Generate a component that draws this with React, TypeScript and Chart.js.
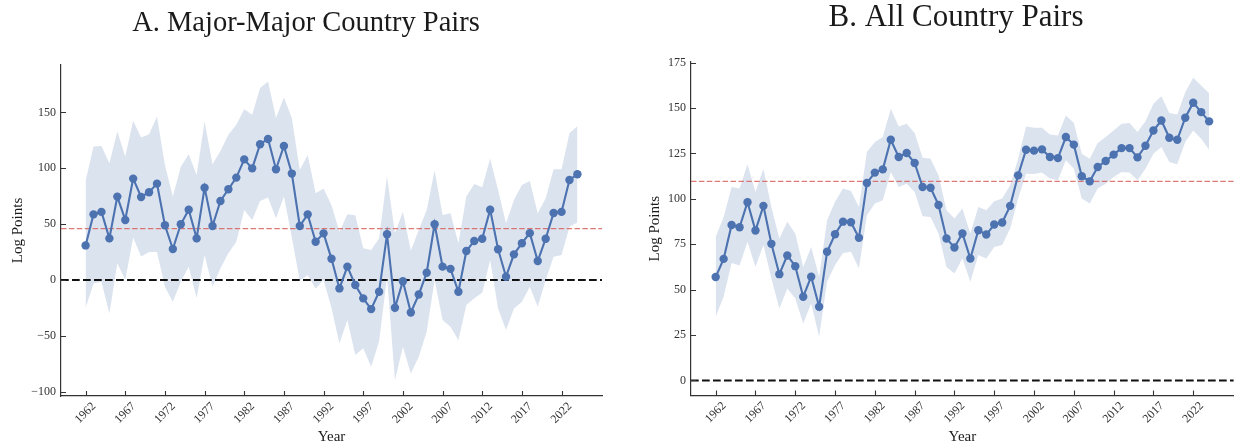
import React, { useEffect, useRef } from "react";
import { Chart, registerables } from "chart.js";

Chart.register(...registerables);

// ---------- data ----------
const YEARS = [
  1962, 1963, 1964, 1965, 1966, 1967, 1968, 1969, 1970, 1971,
  1972, 1973, 1974, 1975, 1976, 1977, 1978, 1979, 1980, 1981,
  1982, 1983, 1984, 1985, 1986, 1987, 1988, 1989, 1990, 1991,
  1992, 1993, 1994, 1995, 1996, 1997, 1998, 1999, 2000, 2001,
  2002, 2003, 2004, 2005, 2006, 2007, 2008, 2009, 2010, 2011,
  2012, 2013, 2014, 2015, 2016, 2017, 2018, 2019, 2020, 2021,
  2022, 2023, 2024,
];

const X_TICKS = [1962, 1967, 1972, 1977, 1982, 1987, 1992, 1997, 2002, 2007, 2012, 2017, 2022];
const A_Y_TICKS = [-100, -50, 0, 50, 100, 150];
const B_Y_TICKS = [0, 25, 50, 75, 100, 125, 150, 175];

// Panel A: Major-Major country pairs
const A_EST = [
  31, 58.8, 61, 37.3, 74.7, 53.8, 90.8, 74.4, 78.6, 86.3,
  49, 27.8, 49.9, 63, 37.3, 82.7, 48.4, 70.8, 81.3, 91.7,
  108, 100, 121.6, 126.3, 99.2, 120, 95.3, 48.4, 58.8, 34.3,
  41.8, 19, -7.5, 12, -4.5, -16.4, -26, -10.5, 41, -24.8,
  -1, -29, -13, 6.5, 50, 12, 10, -10.5, 26, 35,
  37, 63, 27.5, 3, 23, 33, 42, 17, 37, 60,
  61, 89.6, 94.7,
];
const A_UPPER = [
  88.7, 119.5, 120, 104.5, 133, 110.5, 142.5, 127.5, 130.5, 146.3,
  103, 74.7, 101.5, 112.6, 94, 142, 103.6, 115.6, 130, 139,
  153, 148, 171.8, 177.7, 145, 163.4, 145, 98.6, 112, 77.7,
  82, 67, 43.3, 59, 58, 28.4, 26.9, 37.3, 92.6, 41.8,
  61.2, 26.3, 44.8, 62.7, 98, 58.2, 59.7, 32.9, 74.7, 86,
  83, 108.9, 80.6, 50.8, 71.7, 85.1, 88.7, 59.8, 73.2, 99.2,
  99.2, 131.4, 138,
];
const A_LOWER = [
  -25, -3, -1.5, -30, 15, 0, 38, 21, 25, 25,
  -6, -19.4, -1.5, 12, -16, 22.4, -6, 10.5, 24, 34.3,
  62.7, 53.8, 70.8, 73.8, 55.3, 74.7, 38, -0.7, 4.5, -7.5,
  0, -25, -56.7, -35.8, -67, -61, -77.6, -55, 3, -89.6,
  -59.7, -83.6, -68.7, -46.3, 0, -35.8, -41.8, -53.8, -22.4, -16.4,
  -11.3, 17.9, -25.4, -44.8, -25.4, -19.4, -6, -23.9, 0, 20.9,
  22.4, 47.8, 51.4,
];
const A_MEAN = 46;

// Panel B: All country pairs
const B_EST = [
  56.9, 66.9, 85.6, 84.3, 98.1, 82.5, 96.1, 75.2, 58.5, 68.8,
  62.9, 46.1, 57.1, 40.6, 70.8, 80.5, 87.4, 87.1, 78.5, 108.7,
  114.4, 116.2, 132.5, 123, 125.2, 119.7, 106.5, 106.1, 96.6, 78.1,
  73.2, 80.9, 67.1, 82.7, 80.3, 85.8, 86.9, 96.1, 112.9, 127,
  126.5, 127.2, 123, 122.4, 134, 129.8, 112.4, 109.6, 117.5, 120.8,
  124.3, 127.9, 127.9, 122.8, 129.2, 137.6, 143.1, 133.6, 132.5, 144.6,
  152.9, 147.7, 142.6,
];
const B_UPPER = [
  79, 90, 106.5, 105.6, 119, 103.8, 116.6, 95.5, 78.1, 87.3,
  80.9, 62.5, 73.5, 57.1, 88.2, 98.3, 105.6, 104.3, 95.5, 125.7,
  131.2, 134, 149.5, 139.8, 141.3, 136.2, 122.6, 122.1, 112.9, 93.7,
  89.1, 94.6, 80.9, 95.5, 93.7, 98.6, 100.1, 107.4, 122.1, 139.8,
  139.1, 139.1, 135.4, 134.9, 145.9, 141.9, 124.8, 122.1, 130.7, 134,
  137.6, 141.3, 141.7, 136.7, 142.7, 152.3, 156.5, 147.2, 146.4, 158.7,
  166.6, 162.4, 158.1,
];
const B_LOWER = [
  35.1, 46.1, 64.7, 63.3, 76.3, 62.5, 74.5, 56.1, 39.6, 50.6,
  45.1, 31.4, 42.4, 24, 54.3, 63.5, 70.2, 70.8, 61.6, 90.9,
  97.4, 99.2, 114.7, 106.5, 108.3, 103.8, 90.4, 90, 80.9, 62.5,
  58.9, 67.1, 54.3, 69, 67.1, 73.5, 74.5, 83.6, 100.1, 113.8,
  113.6, 114.4, 111.1, 110.2, 121.2, 116.6, 100.1, 97.4, 105.6, 108.3,
  112, 114.7, 114.4, 110.2, 116.6, 124.8, 128.5, 120.2, 119, 131.2,
  137.6, 133.1, 127,
];
const B_MEAN = 109.6;

// ---------- styles ----------
const FONT = "'Liberation Serif', 'Times New Roman', serif";
const BLUE = "#4C72B0";
const BAND = "rgba(76,114,176,0.2)";
const RED = "rgba(214,90,84,0.8)";
const AXIS = "#333333";
const TEXT = "#333333";
const TITLE = "#1a1a1a";
const X_MIN = 1958.9;
const X_MAX = 2027.1;
const H = 448;

type Panel = {
  title: string;
  titleX: number;
  titleY: number;
  titleSize: number;
  est: number[];
  upper: number[];
  lower: number[];
  mean: number;
  yMin: number;
  yMax: number;
  yTicks: number[];
  left: number;
  right: number;
  top: number;
  bottom: number;
  width: number;
  yTitlePad: number;
  axisTitleSize: number;
  tickSize: number;
};

const PANEL_A: Panel = {
  title: "A. Major-Major Country Pairs",
  titleX: 306,
  titleY: 31,
  titleSize: 28.5,
  est: A_EST,
  upper: A_UPPER,
  lower: A_LOWER,
  mean: A_MEAN,
  yMin: -103.8,
  yMax: 192.5,
  yTicks: A_Y_TICKS,
  left: 61,
  right: 602,
  top: 65,
  bottom: 396,
  width: 620,
  yTitlePad: 9,
  axisTitleSize: 15,
  tickSize: 12,
};

const PANEL_B: Panel = {
  title: "B. All Country Pairs",
  titleX: 336,
  titleY: 26,
  titleSize: 31,
  est: B_EST,
  upper: B_UPPER,
  lower: B_LOWER,
  mean: B_MEAN,
  yMin: -8.3,
  yMax: 175.3,
  yTicks: B_Y_TICKS,
  left: 71,
  right: 618,
  top: 62,
  bottom: 395.5,
  width: 618,
  yTitlePad: 26,
  axisTitleSize: 15,
  tickSize: 12,
};

function fmt(v: number): string {
  return v < 0 ? "\u2212" + Math.abs(v) : String(v);
}

function makeChart(canvas: HTMLCanvasElement, p: Panel) {
  const pts = (arr: number[]) => YEARS.map((yr, i) => ({ x: yr, y: arr[i] }));
  const hline = (v: number) => [
    { x: X_MIN, y: v },
    { x: X_MAX, y: v },
  ];

  const decor = {
    id: "decor",
    afterDraw(chart: any) {
      const { ctx, chartArea: a, scales } = chart;
      const xs = scales.x;
      const ys = scales.y;
      ctx.save();
      ctx.strokeStyle = AXIS;
      ctx.lineWidth = 1.1;
      ctx.beginPath();
      for (const t of X_TICKS) {
        const px = Math.round(xs.getPixelForValue(t)) + 0.5;
        ctx.moveTo(px, a.bottom);
        ctx.lineTo(px, a.bottom - 5);
      }
      for (const t of p.yTicks) {
        const py = Math.round(ys.getPixelForValue(t)) + 0.5;
        ctx.moveTo(a.left, py);
        ctx.lineTo(a.left + 5, py);
      }
      ctx.stroke();

      ctx.fillStyle = TEXT;
      ctx.font = `${p.tickSize}px ${FONT}`;
      ctx.textAlign = "center";
      ctx.textBaseline = "middle";
      for (const t of X_TICKS) {
        const px = xs.getPixelForValue(t);
        ctx.save();
        ctx.translate(px, a.bottom + 17);
        ctx.rotate(-Math.PI / 4);
        ctx.fillText(String(t), 0, 0);
        ctx.restore();
      }

      ctx.fillStyle = TITLE;
      ctx.font = `${p.titleSize}px ${FONT}`;
      ctx.textAlign = "center";
      ctx.textBaseline = "alphabetic";
      ctx.fillText(p.title, p.titleX, p.titleY);
      ctx.restore();
    },
  };

  return new Chart(canvas, {
    type: "line",
    data: {
      datasets: [
        {
          data: pts(p.est),
          borderColor: BLUE,
          backgroundColor: BLUE,
          borderWidth: 2.1,
          pointRadius: 4.2,
          pointBackgroundColor: BLUE,
          pointBorderColor: BLUE,
          pointBorderWidth: 0,
          fill: false,
          tension: 0,
        },
        {
          data: hline(p.mean),
          borderColor: RED,
          borderWidth: 1.2,
          borderDash: [5.5, 2.4],
          pointRadius: 0,
          fill: false,
        },
        {
          data: hline(0),
          borderColor: "#111111",
          borderWidth: 2,
          borderDash: [7.7, 3.3],
          pointRadius: 0,
          fill: false,
        },
        {
          data: pts(p.upper),
          borderColor: "rgba(0,0,0,0)",
          borderWidth: 0,
          pointRadius: 0,
          backgroundColor: BAND,
          fill: "+1",
          tension: 0,
        },
        {
          data: pts(p.lower),
          borderColor: "rgba(0,0,0,0)",
          borderWidth: 0,
          pointRadius: 0,
          fill: false,
          tension: 0,
        },
      ],
    } as any,
    options: {
      animation: false,
      responsive: false,
      devicePixelRatio: 1,
      events: [],
      layout: {
        padding: { left: 0, right: p.width - p.right, top: p.top, bottom: 0 },
      },
      plugins: {
        legend: { display: false },
        tooltip: { enabled: false },
        title: { display: false },
      },
      scales: {
        x: {
          type: "linear",
          min: X_MIN,
          max: X_MAX,
          grid: { display: false, drawTicks: false },
          border: { display: true, color: AXIS, width: 1.2 },
          ticks: { display: false },
          afterBuildTicks: (s: any) => {
            s.ticks = X_TICKS.map((v) => ({ value: v }));
          },
          afterFit: (s: any) => {
            s.height = H - p.bottom;
          },
          title: {
            display: true,
            text: "Year",
            color: TITLE,
            font: { family: FONT, size: p.axisTitleSize },
            padding: { top: 0, bottom: 1.5 },
          },
        },
        y: {
          type: "linear",
          min: p.yMin,
          max: p.yMax,
          grid: { display: false, drawTicks: false },
          border: { display: true, color: AXIS, width: 1.2 },
          afterBuildTicks: (s: any) => {
            s.ticks = p.yTicks.map((v) => ({ value: v }));
          },
          afterFit: (s: any) => {
            s.width = p.left;
          },
          ticks: {
            color: TEXT,
            font: { family: FONT, size: p.tickSize },
            padding: 5,
            callback: (v: any) => fmt(Number(v)),
          },
          title: {
            display: true,
            text: "Log Points",
            color: TITLE,
            font: { family: FONT, size: p.axisTitleSize },
            padding: { top: p.yTitlePad, bottom: 0 },
          },
        },
      },
    } as any,
    plugins: [decor],
  });
}

export default function App() {
  const leftRef = useRef<HTMLCanvasElement>(null);
  const rightRef = useRef<HTMLCanvasElement>(null);

  useEffect(() => {
    const a = makeChart(leftRef.current as HTMLCanvasElement, PANEL_A);
    const b = makeChart(rightRef.current as HTMLCanvasElement, PANEL_B);
    return () => {
      a.destroy();
      b.destroy();
    };
  }, []);

  return (
    <div
      style={{
        position: "absolute",
        left: 0,
        top: 0,
        width: 1238,
        height: H,
        background: "#ffffff",
        overflow: "hidden",
      }}
    >
      <canvas
        ref={leftRef}
        width={PANEL_A.width}
        height={H}
        style={{ position: "absolute", left: 0, top: 0, width: PANEL_A.width, height: H }}
      />
      <canvas
        ref={rightRef}
        width={PANEL_B.width}
        height={H}
        style={{ position: "absolute", left: 620, top: 0, width: PANEL_B.width, height: H }}
      />
    </div>
  );
}
